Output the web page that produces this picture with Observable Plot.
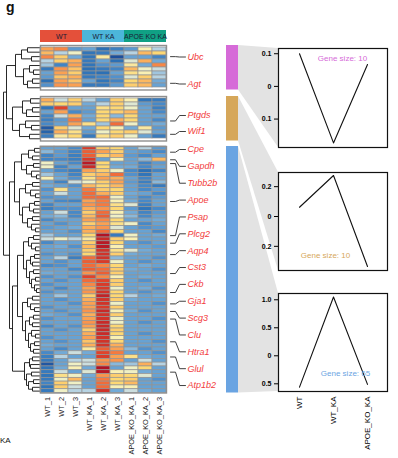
<!DOCTYPE html>
<html><head><meta charset="utf-8">
<script src="https://cdn.jsdelivr.net/npm/d3@7"></script>
<script src="https://cdn.jsdelivr.net/npm/@observablehq/plot@0.6"></script>
<style>
body{margin:0;background:#fff;font-family:"Liberation Sans",Arial,Helvetica,sans-serif;}
#fig{position:relative;width:398px;height:458px;overflow:hidden;background:#fff;}
#fig > *{position:absolute;}
#fig svg{overflow:visible;}
</style></head><body><div id="fig"></div>
<script>
// ---------------- DATA ----------------
const samples = ["WT_1","WT_2","WT_3","WT_KA_1","WT_KA_2","WT_KA_3","APOE_KO_KA_1","APOE_KO_KA_2","APOE_KO_KA_3"];
const sampleGroups = ["WT","WT KA","APOE KO KA"];
const groupColors = ["#e4503a","#4cb6da","#10a084"];

const cluster1 = [
[1.0,1.2,-0.7,-0.6,-1.4,-1.1,-0.7,0.2,-0.2],
[0.8,-0.2,0.1,-1.3,-1.2,-0.5,-0.2,0.8,0.5],
[1.2,0.6,-0.5,-1.3,0.3,-2.2,-0.6,-0.6,-1.0],
[-0.2,0.6,0.9,-1.2,-0.6,-1.4,0.0,0.9,-0.5],
[-0.3,-1.0,1.0,-1.3,-0.8,-0.7,0.3,-0.5,1.2],
[-1.2,1.1,0.7,-1.4,-1.2,-1.0,0.8,0.1,-0.1],
[-0.6,1.0,0.6,-1.3,-1.4,-0.6,0.4,0.2,-0.3],
[-0.7,0.7,0.9,-1.2,-1.0,-0.8,0.0,0.6,-0.2],
[-1.4,1.0,0.7,-0.6,-1.3,-1.0,0.5,0.8,-0.5],
[-0.8,1.1,1.0,-1.2,-1.2,-0.7,0.6,0.8,-0.6]
];
const cluster2 = [
[0.9,-0.1,0.6,-0.2,-0.6,0.6,0.2,-1.3,-1.2],
[0.6,0.5,0.6,-0.5,-0.2,0.6,0.0,-0.7,-0.9],
[-1.3,1.7,-0.6,-0.6,0.4,0.5,0.1,-0.6,-1.1],
[-0.6,1.0,-0.9,-0.7,0.5,0.6,0.8,-0.6,-0.9],
[-1.0,-0.1,0.9,-0.5,0.5,-0.4,0.5,-0.6,-0.6],
[-1.1,-0.7,1.3,-0.6,0.5,0.9,0.5,-0.6,-0.9],
[-0.9,-0.6,1.0,0.4,-0.3,1.4,0.1,-0.6,-0.5],
[-1.9,0.6,0.0,-0.5,0.5,0.2,-0.5,0.3,-0.7],
[-1.7,0.9,0.4,-0.7,0.1,0.5,0.6,0.0,-0.6],
[-1.1,0.3,0.5,-1.2,0.4,0.6,0.1,-0.6,-1.2]
];
const cluster3 = [
[-0.6,-0.6,-0.9,1.8,0.6,0.5,-0.6,-0.2,-0.7],
[-0.4,-0.7,-1.0,1.5,1.0,0.6,-0.6,-0.7,-0.9],
[-1.0,-0.7,-1.1,1.5,0.6,0.8,-0.7,-0.9,-0.6],
[-1.0,-0.9,-1.1,1.8,-0.6,0.2,-0.6,-0.4,0.8],
[0.1,-0.6,-0.9,2.2,0.5,-0.6,-0.6,-1.0,-0.7],
[0.1,-1.0,-0.6,2.0,0.5,-0.5,-0.5,-0.9,-0.6],
[-0.6,-0.9,-1.1,1.0,0.6,0.1,-0.9,-1.4,-1.0],
[-0.3,-0.6,-1.0,0.6,0.8,1.4,-0.8,-1.3,-0.6],
[0.2,-0.5,-0.8,0.4,1.0,0.9,-0.6,-1.0,-0.6],
[-0.6,-1.0,-0.1,0.1,0.6,1.0,-0.7,-1.1,-0.4],
[-0.5,-0.6,-0.8,0.8,0.5,0.8,-0.6,-0.9,-1.2],
[-0.8,0.4,-0.6,1.3,0.6,0.5,-0.6,-0.9,-0.7],
[-0.6,-0.1,-0.6,1.4,0.9,0.6,-0.5,-0.6,-0.9],
[-0.8,-0.7,-0.6,1.4,1.4,0.1,-0.6,-0.9,-0.7],
[-0.6,-0.9,-1.0,1.0,1.3,0.2,-0.5,-0.9,-0.6],
[-1.0,-0.6,-0.6,1.1,1.3,0.4,0.0,-1.1,-0.6],
[-1.1,-0.8,-0.8,0.9,1.1,0.5,-0.7,-1.3,-0.9],
[-0.6,-0.1,-0.9,0.6,1.4,0.2,-0.5,-1.0,-0.7],
[-0.5,-0.4,-0.9,0.8,1.5,0.1,-0.4,-0.9,-0.6],
[-0.9,-0.6,-0.6,1.0,1.2,0.5,-0.6,-0.6,-0.5],
[-0.6,-0.8,-0.6,0.6,1.0,0.4,0.1,-0.9,-0.6],
[-0.7,-0.6,-0.5,0.9,1.1,0.0,-0.6,-0.8,-0.7],
[-0.6,-0.6,-0.8,0.9,1.4,0.5,-0.6,-0.6,-0.9],
[-0.3,-0.6,-0.6,0.5,2.3,-1.2,0.1,-0.6,-0.5],
[-0.1,0.1,-0.2,0.3,2.0,0.6,0.2,-0.6,-0.6],
[-0.9,-0.6,-0.6,0.6,2.2,0.5,-0.6,-0.8,-0.6],
[-0.6,-0.5,-0.8,0.8,2.2,0.2,-0.6,-0.6,-0.7],
[-0.6,-0.6,-0.6,0.6,1.9,0.4,0.0,-0.5,-0.6],
[-0.8,-0.6,-0.8,0.5,1.9,0.6,-0.5,-0.6,-0.6],
[-0.6,-0.2,-1.1,1.4,1.9,-0.4,-0.6,-0.6,-0.8],
[-0.6,-0.8,-0.6,1.5,1.8,0.1,-0.6,-0.8,-0.6],
[-0.9,-0.8,-0.6,1.4,1.2,0.5,-0.6,-0.5,-0.6],
[-0.6,-0.6,-0.9,1.5,1.4,0.6,-0.5,-0.6,-0.8],
[-0.5,-0.6,-0.6,1.1,1.5,0.6,-0.6,-0.6,-0.6],
[-0.8,-0.6,-0.8,1.7,1.2,0.2,-0.6,-0.5,-0.6],
[-0.6,-0.8,-0.6,1.4,1.7,0.6,-0.6,-0.8,-0.6],
[-0.8,-0.6,-0.6,1.2,1.8,0.6,-0.6,-0.6,-0.6],
[-0.6,-0.9,-0.6,1.0,1.8,0.1,-0.6,-0.5,-0.8],
[-0.8,-0.6,-0.6,1.1,1.9,0.5,-0.6,-0.8,-0.6],
[-0.6,-0.3,-0.6,0.6,2.1,0.5,-0.2,-0.6,-0.5],
[-0.6,-0.8,-0.6,0.9,1.9,0.6,-0.5,-0.6,-0.6],
[-0.6,-0.6,-0.8,1.0,1.9,0.1,-0.6,-0.6,-0.8],
[-0.8,-0.6,-0.6,1.0,1.8,0.6,-0.6,-0.6,-0.6],
[-0.6,-0.8,-0.6,1.1,2.0,0.2,-0.5,-0.8,-0.6],
[-0.5,-0.6,-0.8,0.9,1.9,0.6,-0.6,-0.6,-0.6],
[-0.8,-0.6,-0.6,1.0,1.9,0.1,-0.6,-0.6,-0.8],
[-0.6,-0.6,-0.6,1.1,2.0,0.1,-0.6,-0.8,-0.6],
[-0.9,-0.6,-0.8,1.0,2.0,0.5,-0.6,-0.6,-0.6],
[-0.6,-0.8,-0.6,0.6,2.0,0.6,-0.6,-0.6,-0.6],
[-0.6,-0.6,-0.6,0.9,2.0,0.5,-0.6,-0.8,-0.6],
[-0.8,-0.6,-0.6,1.0,1.9,0.2,-0.6,-0.6,-0.6],
[-0.6,-0.8,-0.6,0.7,1.9,0.5,-0.6,-0.6,-0.8],
[-0.5,-0.6,-0.6,0.9,1.9,0.9,-0.6,-0.6,-0.6],
[-0.6,-0.9,-0.6,0.3,1.5,1.0,-0.4,-0.8,-0.6],
[-0.9,-0.5,-0.1,-0.5,1.7,1.3,-0.6,-0.6,-0.8],
[-1.1,-0.2,-0.6,-0.6,1.8,1.0,0.4,-0.5,-0.6],
[-1.2,-0.6,-0.2,-0.1,1.1,1.1,-0.6,-0.1,-0.6],
[-2.0,-0.6,0.1,-0.1,1.2,-0.4,-0.3,0.9,-0.2],
[-1.3,-0.5,0.2,-0.5,2.3,-0.6,0.1,0.5,-0.6],
[-1.2,-0.1,-0.6,0.0,2.2,0.2,0.1,-0.5,-0.6],
[-1.3,0.4,0.1,-0.5,1.1,0.6,0.5,0.0,-0.6],
[-1.2,0.1,0.8,-0.6,1.3,0.5,0.6,-0.6,-0.8],
[-1.0,0.6,0.1,-0.6,1.4,0.5,0.8,-0.6,-0.6],
[-1.3,0.6,-0.1,-0.6,1.4,0.2,0.2,-0.6,-0.6],
[-1.2,0.1,-0.2,-0.2,1.9,-0.5,-0.1,-0.5,-0.6]
];
const clusters = [cluster1, cluster2, cluster3];

const geneLabels  = ["Ubc","Agt","Ptgds","Wif1","Cpe","Gapdh","Tubb2b","Apoe","Psap","Plcg2","Aqp4","Cst3","Ckb","Gja1","Scg3","Clu","Htra1","Glul","Atp1b2"];
const geneCluster = [0,0,1,1,2,2,2,2,2,2,2,2,2,2,2,2,2,2,2];
const geneRow     = [2,8,5,8,1,3,4,14,23,25,28,33,38,41,43,45,51,55,59];

const profileX = ["WT","WT_KA","APOE_KO_KA"];
const profile1 = [0.10,-0.173,0.067];
const profile2 = [0.062,0.275,-0.335];
const profile3 = [-0.56,1.05,-0.51];
const profiles = [profile1, profile2, profile3];
const geneSizes = [10,10,65];
const clusterColors = ["#d66bd8","#d6a75a","#6aa4e2"];

// dendrogram: [height, child, child] ; numbers = row index inside the cluster
const tree1 = [25,[19,[13,0,1],[9,2,3]],[17,[11,4,[7,5,6]],[13,[8,7,8],9]]];
const tree2 = [28,[18,[10,0,1],[14,[8,2,3],4]],[21,[15,5,[9,6,7]],[11,8,9]]];
const tree3top = [26,[19,[12,[6,0,1],[8,2,3]],[14,[7,4,5],[9,6,[4,7,8]]]],
  [21,[15,[8,9,10],[10,11,[5,12,13]]],[18,[11,[6,14,15],[7,16,17]],[13,[8,18,19],[9,20,[5,21,22]]]]]];
const tree3a = [17,[12,[7,23,24],[9,25,[5,26,27]]],[14,[10,[6,28,29],[8,30,31]],[11,[7,32,33],[9,[5,34,35],[6,36,[4,37,38]]]]]];
const tree3b = [18,[13,[8,39,40],[10,41,[6,42,43]]],[15,[11,[7,44,45],[8,46,47]],[12,[9,48,[5,49,50]],[10,[6,51,52],[7,53,54]]]]];
const tree3c = [16,[11,[8,55,56],[10,57,58]],[14,[9,59,60],[12,[7,61,62],[8,63,64]]]];
const treeTopHeights = {b12:34, b3:31, b3bottom:28, b3ab:23, root:37};

// ---------------- LAYOUT ----------------
const FONT = '"Liberation Sans", Arial, Helvetica, sans-serif';
const HM = {x:40, w:126};
const blocks = [{top:45,h:44.5},{top:96,h:44.5},{top:146,h:246.5}];
const rowCenter = (b,i) => blocks[b].top + (i+0.5)*blocks[b].h/clusters[b].length;
const bar = {x1:226, x2:238};
const boxX = [278, 387];
const boxes = [{top:48,bottom:147},{top:172,bottom:270},{top:293,bottom:391}];
const yDomains = [[-0.187,0.116],[-0.362,0.295],[-0.6375,1.112]];
const yTicks = [[-0.1,0,0.1],[-0.2,0,0.2],[-0.5,0,0.5,1.0]];
const sizeLabelPos = [{dx:9,y:0.0856},{dx:-8,y:-0.262},{dx:12,y:-0.31}];
const labelY = [56.5, 83.5, 115, 131, ...d3.range(15).map(i => 149 + i*16.86)];

const fig = document.getElementById("fig");
function place(el, left, top, z){ el.style.left = left+"px"; el.style.top = top+"px"; el.style.zIndex = z||1; fig.appendChild(el); return el; }

const colorScale = {type:"linear",
  domain:[-2.2,-1.4,-0.9,-0.5,-0.15,0.15,0.5,0.9,1.3,1.7,2.2],
  range:["#1d4f9b","#2c70b5","#4789c8","#72aad7","#c3dae4","#f8f4bf","#fdd874","#fcae5a","#f57a3f","#e0432b","#b81a26"]};

// ---------------- OVERLAY (funnels, bars, labels) ----------------
const funnels = clusters.flatMap((c,k)=>[
  {k, x:bar.x2, y1:blocks[k].top, y2:blocks[k].top+blocks[k].h},
  {k, x:boxX[0], y1:boxes[k].top, y2:boxes[k].bottom}]);
const barData = clusters.map((c,k)=>({k, y1:blocks[k].top, y2:blocks[k].top+blocks[k].h}));
const connectors = geneLabels.flatMap((g,i)=>{
  const sy = rowCenter(geneCluster[i], geneRow[i]), ly = labelY[i];
  return [{g,x:HM.x+HM.w+4,y:sy},{g,x:HM.x+HM.w+9,y:sy},{g,x:HM.x+HM.w+13,y:ly},{g,x:HM.x+HM.w+19,y:ly}];
});
const labels = geneLabels.map((g,i)=>({g, y:labelY[i]}));

place(Plot.plot({
  width:398, height:458, margin:0,
  style:{fontFamily:FONT, background:"transparent"},
  x:{domain:[0,398], range:[0,398], axis:null},
  y:{domain:[0,458], range:[0,458], axis:null},
  marks:[
    Plot.area(funnels,{x1:"x", y1:"y1", y2:"y2", z:"k", fill:"#e3e3e3"}),
    Plot.rect(barData,{x1:()=>bar.x1, x2:()=>bar.x2, y1:"y1", y2:"y2", fill:d=>clusterColors[d.k]}),
    Plot.line(connectors,{x:"x", y:"y", z:"g", stroke:"#2a2a2a", strokeWidth:0.9}),
    Plot.text(labels,{x:()=>HM.x+HM.w+21, y:"y", text:"g", textAnchor:"start", fill:"#f23b3b", fontStyle:"italic", fontSize:9})
  ]
}), 0, 0, 0);

// ---------------- DENDROGRAM ----------------
const segs = [];
function walk(n, b){
  if (typeof n === "number") return {y: rowCenter(b,n), h:0};
  const [h, ...kids] = n;
  const ks = kids.map(c => (c && c.block !== undefined) ? walk(c.node, c.block) : walk(c, b));
  const ys = ks.map(k=>k.y);
  ks.forEach(k => segs.push({x1:h, y1:k.y, x2:k.h, y2:k.y}));
  segs.push({x1:h, y1:d3.min(ys), x2:h, y2:d3.max(ys)});
  return {y:(d3.min(ys)+d3.max(ys))/2, h};
}
const W = (node, block) => ({node, block});
walk([treeTopHeights.root,
  [treeTopHeights.b12, W(tree1,0), W(tree2,1)],
  W([treeTopHeights.b3, tree3top, [treeTopHeights.b3bottom, [treeTopHeights.b3ab, tree3a, tree3b], tree3c]], 2)
], 0);

place(Plot.plot({
  width:42, height:458, margin:0,
  style:{background:"transparent"},
  x:{domain:[37,0], range:[3,40], axis:null},
  y:{domain:[0,458], range:[0,458], axis:null},
  marks:[Plot.link(segs,{x1:"x1", y1:"y1", x2:"x2", y2:"y2", stroke:"#111", strokeWidth:0.9})]
}), 0, 0, 2);

// ---------------- GROUP BAR ----------------
place(Plot.plot({
  width:HM.w, height:12, margin:0,
  style:{fontFamily:FONT, background:"transparent", overflow:"visible"},
  x:{domain:sampleGroups, padding:0, axis:null},
  color:{domain:sampleGroups, range:groupColors},
  marks:[
    Plot.cell(sampleGroups,{x:d=>d, fill:d=>d}),
    Plot.text(sampleGroups,{x:d=>d, text:d=>d, fill:"#1b1b35", fontSize:7})
  ]
}), HM.x, 30, 3);

// ---------------- HEATMAP ----------------
clusters.forEach((rows,b)=>{
  const data = rows.flatMap((r,i)=>r.map((v,j)=>({gene:i, sample:samples[j], v})));
  const mb = b===2 ? 64 : 0;
  place(Plot.plot({
    width:HM.w, height:blocks[b].h + mb,
    marginLeft:0, marginRight:0, marginTop:0, marginBottom:mb,
    style:{fontFamily:FONT, background:"transparent", overflow:"visible"},
    x:{domain:samples, padding:0, axis:null},
    y:{domain:d3.range(rows.length), padding:0, axis:null},
    color:colorScale,
    marks:[
      Plot.cell(data,{x:"sample", y:"gene", fill:"v", stroke:"#939393", strokeWidth:0.7}),
      Plot.frame({stroke:"#8f8f8f", strokeWidth:1.4}),
      b===2 ? Plot.axisX({tickRotate:-90, tickSize:0, tickPadding:4, fontSize:7.4, label:null, fill:"#222"}) : null
    ]
  }), HM.x, blocks[b].top, 3);
});

// ---------------- PROFILE LINE PLOTS ----------------
const fmt = d => d === 0 ? "0" : Math.abs(d).toFixed(1);
profiles.forEach((p,k)=>{
  const box = boxes[k];
  const mb = k===2 ? 64 : 4;
  const ml = 32;
  place(Plot.plot({
    width: ml + (boxX[1]-boxX[0]) + 4,
    height: 4 + (box.bottom-box.top) + mb,
    marginLeft:ml, marginRight:4, marginTop:4, marginBottom:mb,
    style:{fontFamily:FONT, background:"transparent", overflow:"visible"},
    x:{type:"point", domain:profileX, padding:0.59, axis:null},
    y:{domain:yDomains[k], axis:null},
    marks:[
      Plot.frame({fill:"white", stroke:"#111", strokeWidth:1.2}),
      Plot.axisY({ticks:yTicks[k], tickFormat:fmt, tickSize:4, tickPadding:3, fontSize:7, fontWeight:"bold", label:null}),
      k===2 ? Plot.axisX({tickRotate:-90, tickSize:0, tickPadding:5, fontSize:8, label:null}) : null,
      Plot.line(profileX.map((x,i)=>({x, v:p[i]})),{x:"x", y:"v", stroke:"#111", strokeWidth:1.1}),
      Plot.text([`Gene size: ${geneSizes[k]}`],{x:()=>"WT_KA", y:()=>sizeLabelPos[k].y, dx:sizeLabelPos[k].dx, text:d=>d, fill:clusterColors[k], fontSize:8})
    ]
  }), boxX[0]-ml, box.top-4, 4);
});

// ---------------- TEXT ----------------
const g = document.createElement("div");
g.textContent = "g"; g.style.cssText = "font:bold 14px "+FONT+";color:#111;line-height:14px;";
place(g, 6, 0, 5);
const ka = document.createElement("div");
ka.textContent = "KA"; ka.style.cssText = "font:8px "+FONT+";color:#111;line-height:8px;";
place(ka, 0, 437, 5);
</script></body></html>
